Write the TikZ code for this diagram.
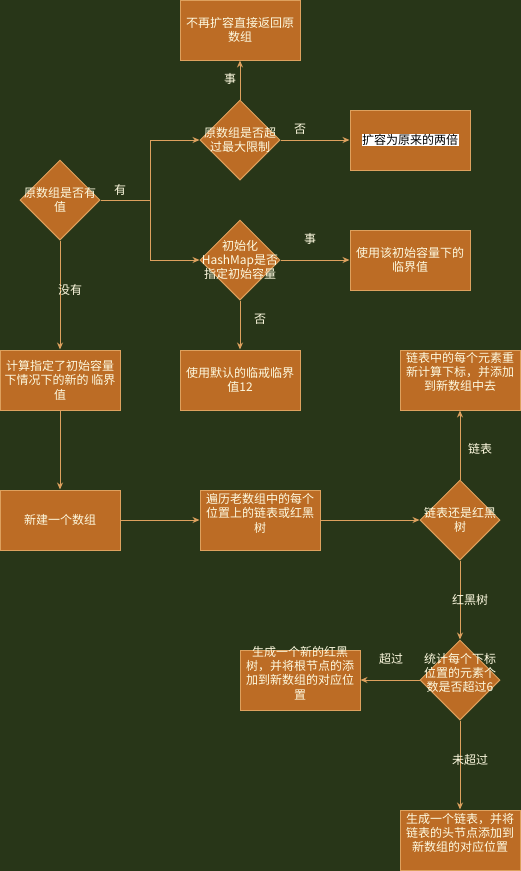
\documentclass[tikz,border=0pt]{standalone}
\usepackage{fontspec}
\newfontfamily\cjk{Noto Sans CJK SC}
\usetikzlibrary{shapes.geometric,arrows.meta}
\definecolor{bgc}{HTML}{283618}
\definecolor{fillc}{HTML}{BC6C25}
\definecolor{strk}{HTML}{DDA15E}
\definecolor{txt}{HTML}{FEFAE0}
\tikzset{
  txtl/.style={text=txt, align=center, inner sep=0pt, font=\cjk\fontsize{12}{14.4}\selectfont},
  box/.style={draw=strk, fill=fillc, line width=1pt, minimum width=120pt, minimum height=60pt, inner sep=0pt},
  dia/.style={diamond, draw=strk, fill=fillc, line width=1pt, minimum width=80pt, minimum height=80pt, inner sep=0pt},
  conn/.style={draw=strk, line width=1pt, -{Stealth[length=7pt,width=6pt]}},
  lbl/.style={text=txt, inner sep=0pt, font=\cjk\fontsize{12}{14.4}\selectfont},
}
\begin{document}
\begin{tikzpicture}[x=1pt,y=-1pt]
\fill[bgc] (0,0) rectangle (521,871);
\useasboundingbox (0,0) rectangle (521,871);

% nodes
\node[box, label={[txtl]center:不再扩容直接返回原\\数组}] (b1) at (240,30) {};
\node[dia, label={[txtl]center:原数组是否超\\过最大限制}] (d1) at (240,140) {};
\node[box, label={[txtl, text=black, fill=white, inner sep=0.5pt]center:扩容为原来的两倍}] (b2) at (410,140) {};
\node[dia, label={[txtl]center:原数组是否有\\值}] (d0) at (60,200) {};
\node[dia, label={[txtl]center:初始化\\HashMap是否\\指定初始容量}] (d2) at (240,260) {};
\node[box, label={[txtl]center:使用该初始容量下的\\临界值}] (b3) at (410,260) {};
\node[box, label={[txtl]center:使用默认的临戒临界\\值12}] (b4) at (240,380) {};
\node[box, label={[txtl]center:计算指定了初始容量\\下情况下的新的 临界\\值}] (b5) at (60,380) {};
\node[box, label={[txtl]center:新建一个数组}] (b6) at (60,520) {};
\node[box, label={[txtl, yshift=7pt]center:遍历老数组中的每个\\位置上的链表或红黑\\树}] (b7) at (260,520) {};
\node[dia, label={[txtl]center:链表还是红黑\\树}] (d3) at (460,520) {};
\node[box, label={[txtl, yshift=8pt]center:链表中的每个元素重\\新计算下标，并添加\\到新数组中去}] (b8) at (460,380) {};
\node[dia, label={[txtl, yshift=7pt]center:统计每个下标\\位置的元素个\\数是否超过6}] (d4) at (460,680) {};
\node[box, label={[txtl, yshift=7pt]center:生成一个新的红黑\\树，并将根节点的添\\加到新数组的对应位\\置}] (b9) at (300,680) {};
\node[box, label={[txtl, yshift=7pt]center:生成一个链表，并将\\链表的头节点添加到\\新数组的对应位置}] (b10) at (460,840) {};

% connectors
\coordinate (sp) at (150,200);
\draw[draw=strk, line width=1pt] (d0.east) -- (sp);
\draw[conn] (sp) |- (d1.west);
\draw[conn] (sp) |- (d2.west);
\draw[conn] (d1.north) -- (b1.south);
\draw[conn] (d1.east) -- (b2.west);
\draw[conn] (d2.east) -- (b3.west);
\draw[conn] (d2.south) -- (b4.north);
\draw[conn] (d0.south) -- (b5.north);
\draw[conn] (b5.south) -- (b6.north);
\draw[conn] (b6.east) -- (b7.west);
\draw[conn] (b7.east) -- (d3.west);
\draw[conn] (d3.north) -- (b8.south);
\draw[conn] (d3.south) -- (d4.north);
\draw[conn] (d4.west) -- (b9.east);
\draw[conn] (d4.south) -- (b10.north);

% edge labels
\node[lbl] (l1) at (120,190) {有};
\node[lbl] (l2) at (230,79) {事};
\node[lbl] (l3) at (300,129) {否};
\node[lbl] (l4) at (310,239) {事};
\node[lbl] (l5) at (260,319) {否};
\node[lbl] (l6) at (70,290) {没有};
\node[lbl] (l7) at (480,449) {链表};
\node[lbl] (l8) at (470,600) {红黑树};
\node[lbl] (l9) at (391,659) {超过};
\node[lbl] (l10) at (470,760) {未超过};
\end{tikzpicture}
\end{document}
